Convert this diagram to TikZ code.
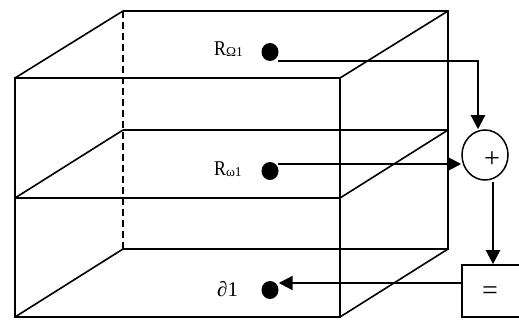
\documentclass[tikz,border=0pt]{standalone}
\usepackage{fontspec}
\setmainfont{Liberation Serif}
\usetikzlibrary{arrows.meta,shapes.geometric}
\begin{document}
\begin{tikzpicture}[x=1pt,y=-1pt,
  edge/.style={line width=1.6pt,line join=miter},
  hidden/.style={edge,dash pattern=on 7pt off 4pt},
  conn/.style={line width=2.2pt},
  arr/.style={conn,-{Triangle[length=14pt,width=14pt]}},
  dot/.style={ellipse,fill=black,minimum width=17pt,minimum height=18pt,inner sep=0pt},
  lbl/.style={anchor=base west,inner sep=0pt}]
\useasboundingbox (0,0) rectangle (519,320);
% cube: front face
\draw[edge] (15,78) rectangle (340,317);
\draw[edge] (15,198) -- (340,198);
% back face
\draw[edge] (123,11) -- (448,11) -- (448,249) -- (123,249);
\draw[edge] (123,130) -- (448,130);
\draw[hidden] (123,11) -- (123,249);
% depth edges
\foreach \f/\b in {78/11,198/130,317/249}{
  \draw[edge] (15,\f) -- (123,\b);
  \draw[edge] (340,\f) -- (448,\b);
}
% dots
\node[dot] (d1) at (270,52) {};
\node[dot] (d2) at (270,171) {};
\node[dot] (d3) at (270,290) {};
% labels
\node[lbl] (l1) at (214,56) {\scalebox{0.85}[1]{\fontsize{21}{21}\selectfont R}\raisebox{-1pt}{\fontsize{13.5}{13.5}\selectfont Ω1}};
\node[lbl] (l2) at (214,176) {\scalebox{0.85}[1]{\fontsize{21}{21}\selectfont R}\raisebox{-1pt}{\fontsize{13.5}{13.5}\selectfont ω1}};
\node[lbl] (l3) at (217,296) {\fontsize{21}{21}\selectfont ∂1};
% summing junction and result box
\node[ellipse,draw,line width=1.5pt,minimum width=46pt,minimum height=50pt,inner sep=0pt] (sum) at (485,155) {};
\node (plus) at (492,160) {\fontsize{28}{28}\selectfont +};
\node[draw,line width=1.6pt,rectangle,minimum width=64pt,minimum height=52pt,inner sep=0pt] (eq) at (494,291) {};
\node (eqs) at (490,293) {\fontsize{28}{28}\selectfont =};
% connectors
\coordinate (a1) at ([xshift=8pt,yshift=-9pt]d1.center);
\coordinate (b1) at ([xshift=-7pt]sum.north);
\draw[arr] (a1) -| (b1);
\coordinate (a2) at ([xshift=8pt,yshift=7pt]d2.center);
\draw[arr] (a2) -- (a2 -| sum.west);
\coordinate (a3) at ([xshift=8pt,yshift=-1pt]sum.south);
\draw[arr] (a3) -- (a3 |- eq.north);
\coordinate (a4) at ([yshift=8pt]eq.west);
\draw[arr] (a4) -- (a4 -| d3.east);
\end{tikzpicture}
\end{document}
